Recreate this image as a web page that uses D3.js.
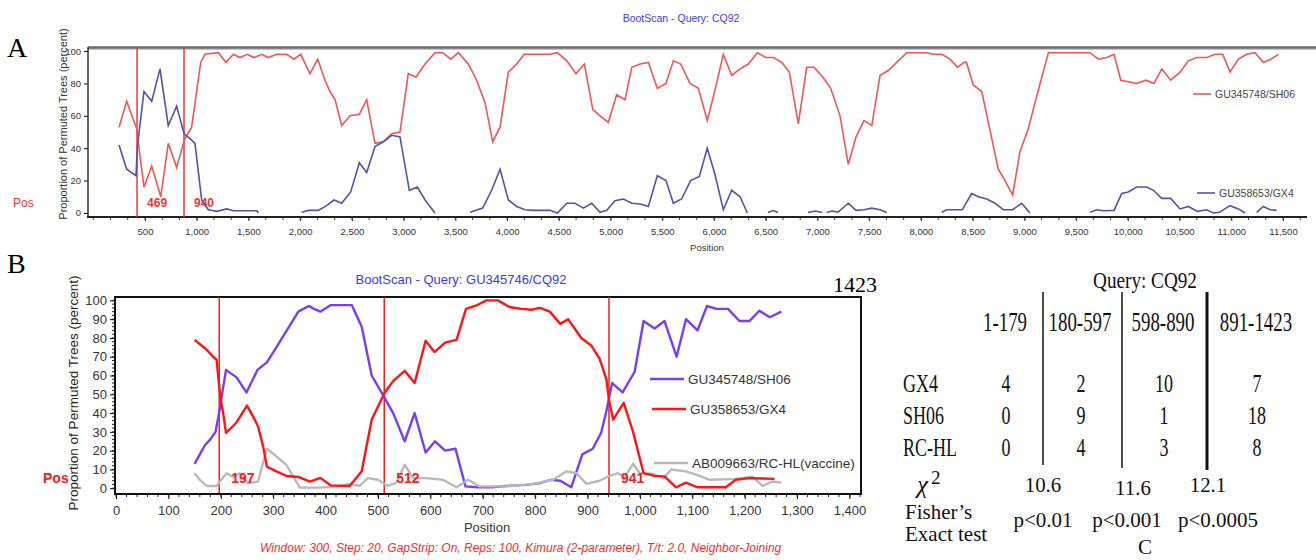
<!DOCTYPE html>
<html>
<head>
<meta charset="utf-8">
<script src="https://cdn.jsdelivr.net/npm/d3@7"></script>
<style>
    body { margin: 0; background: #fff; }
    svg { display: block; }
    .sans { font-family: "Liberation Sans", Arial, sans-serif; }
    .serif { font-family: "Liberation Serif", "Times New Roman", serif; }
</style>
</head>
<body>
<svg id="chart" width="1316" height="560"></svg>
<script>
/***** Données *****/

// Panneau A : [position, % arbres permutés], null = trou dans la courbe
const sh06A = [[249,53],[323,69],[420,52],[430,46],[490,16],[565,29],[652,10],[725,43],[806,28],[880,45],
    [951,53],[1038,93],[1080,98],[1209,99],[1283,93],[1354,98],[1418,96],[1489,98],[1554,96],[1628,98],
    [1692,96],[1773,98],[1870,98],[1940,95],[2005,98],[2095,86],[2169,95],[2240,82],[2288,75],[2337,70],
    [2401,54],[2482,60],[2572,61],[2643,70],[2723,43],[2804,44],[2885,49],[2965,50],[3045,86],[3120,84],
    [3207,92],[3303,99],[3378,99],[3455,95],[3529,99],[3625,92],[3706,82],[3787,68],[3861,44],[3932,53],
    [4012,87],[4093,92],[4164,98],[4415,98],[4486,99],[4577,94],[4666,86],[4747,92],[4828,64],[4898,60],
    [4979,56],[5059,73],[5140,70],[5205,90],[5285,92],[5366,93],[5452,77],[5536,80],[5607,94],[5678,92],
    [5768,80],[5849,77],[5935,57],[6010,76],[6090,98],[6171,85],[6252,89],[6332,92],[6419,99],[6503,96],
    [6574,96],[6655,93],[6728,87],[6815,55],[6896,90],[6967,90],[7051,84],[7128,77],[7218,60],[7298,30],
    [7373,47],[7450,57],[7525,54],[7605,85],[7685,88],[7766,93],[7863,99],[8056,99],[8121,98],[8202,98],
    [8282,95],[8353,90],[8418,93],[8440,93],[8506,79],[8588,75],[8668,51],[8748,27],[8813,20],[8887,11],
    [8958,38],[9038,52],[9119,72],[9232,99],[9635,99],[9715,95],[9796,96],[9867,98],[9932,82],[10005,81],
    [10086,80],[10176,82],[10253,80],[10328,89],[10415,82],[10505,87],[10585,94],[10666,96],[10763,96],
    [10843,98],[10917,98],[10988,87],[11068,95],[11149,98],[11230,99],[11310,93],[11381,95],[11455,98]];

const gx4A = [[249,42],[323,27],[413,23],[426,41],[490,75],[565,69],[645,89],[725,54],[806,66],[877,49],
    [951,45],[983,43],[1048,8],[1112,2],[1193,1],[1290,2.5],[1354,1.4],[1580,1.4],[1596,0],null,
    [2014,0.4],[2079,1.6],[2175,1.6],[2256,4.5],[2327,8],[2401,6],[2488,13],[2572,31],[2643,25],[2723,41],
    [2804,44],[2885,48],[2965,47],[3055,14],[3132,16],[3207,8],[3303,0],null,
    [3642,0.4],[3764,3],[3851,14],[3932,27],[4012,8],[4093,4],[4173,2],[4254,1.6],[4415,1.6],[4486,0],
    [4577,6],[4657,6],[4738,3],[4818,6],[4898,0.4],[4963,1.6],[5043,7.6],[5124,8.6],[5205,6],[5285,5.5],
    [5366,4],[5452,23],[5536,20],[5607,6],[5687,8.6],[5774,20],[5858,22.5],[5935,40],[6010,23.6],[6090,2],
    [6171,14],[6252,10],[6322,0],null,
    [6522,0.3],[6574,1.5],[6619,0.3],null,
    [6909,0.3],[6980,1.2],[7045,0.3],null,
    [7089,0.3],[7140,1.2],[7200,0.5],[7298,6],[7373,1.6],[7450,2],[7525,3],[7605,2],[7670,0.3],null,
    [8202,0.4],[8250,2],[8400,2],[8490,12],[8555,10],[8636,8.6],[8716,6],[8797,2],[8887,2],[8974,6],[9054,0],null,
    [9635,0.4],[9700,2],[9764,1.4],[9867,1.6],[9941,12],[10005,13],[10086,16],[10183,16],[10247,14],[10328,9],
    [10415,9],[10505,2.5],[10585,4],[10673,1],[10763,2],[10827,0],[10885,0.4],[10988,4.5],[11068,2.5],[11133,0],null,
    [11246,0.4],[11310,4],[11375,2],[11439,1.6]];

const breakA = [{ pos: 423, label: "469" }, { pos: 877, label: "940" }];
const legendA = ["GU345748/SH06", "GU358653/GX4"];

// Panneau B
const sh06B = [[150,13],[160,18],[170,23],[180,26],[190,30],[198,42],[203,51],[210,63],[230,59],[249,51],
    [270,63],[288,67],[306,75],[326,84],[348,94],[368,97],[378,95.5],[390,94],[410,97.5],[450,97.5],
    [469,86],[488,60],[513,48],[529,40],[551,25],[570,40],[591,19],[609,25],[628,20],[648,21],
    [667,1],[690,0.5],[715,0.5],[745,1.2],[783,1.8],[809,2.7],[830,4.5],[848,4],[869,0.5],[890,18],
    [910,21],[926,29.5],[936,41],[947,56],[967,51],[990,62],[1007,89],[1028,85],[1047,89],[1070,70],
    [1088,90],[1110,84],[1128,97],[1146,95.5],[1168,95.5],[1190,89],[1209,89],[1228,94.5],[1248,91],[1270,94]];

const gx4B = [[150,79],[170,74.5],[189,69],[192,68.5],[196,57],[200,47],[204,41],[210,29.5],[230,35],[250,44],
    [262,38],[271,33],[281,22],[288,11.5],[306,9],[326,6.5],[348,6],[370,3.5],[390,5.5],[410,1.5],
    [446,1.2],[469,9],[488,36.5],[513,51],[529,57],[551,62.5],[570,56],[591,78.5],[608,72.5],[628,77.5],
    [650,79],[668,95.5],[688,97.3],[707,100],[729,100],[751,96.5],[774,95.5],[793,95],[809,96],[828,94],
    [848,87.5],[863,90],[888,80],[907,76],[923,69],[936,58],[941,47],[949,36.5],[969,45.5],[987,30],
    [1007,8],[1028,6.6],[1047,6.3],[1069,0.5],[1088,3],[1110,0.5],[1164,0.5],[1183,4.5],[1209,5.4],[1257,5]];

const rchlB = [[150,8],[160,4.5],[173,1.2],[192,1.2],[198,3.5],[211,8],[224,6],[236,8],[252,2.7],[271,3.5],
    [288,21],[306,17],[325,12.5],[351,0.3],[389,0.3],[427,1],[446,2.3],[465,1.2],[481,5.4],[500,4.5],
    [519,1.2],[535,3],[551,12.5],[567,5.4],[593,5.4],[624,4.5],[650,0.5],[672,4.5],[694,1],[745,1],
    [796,2.3],[834,4.5],[860,9],[879,8],[898,2.3],[923,4],[942,6.6],[958,8],[971,6.2],[987,13],
    [1000,8],[1025,7.7],[1045,5.4],[1060,10],[1088,9],[1110,7],[1133,4.5],[1183,5],[1215,6.2],[1234,1.2],
    [1253,3.6],[1270,3]];

const breakB = [197, 512, 941];
const legendB = ["GU345748/SH06", "GU358653/GX4", "AB009663/RC-HL(vaccine)"];

// Tableau C
const tableColumns = ["1-179", "180-597", "598-890", "891-1423"];
const tableRows = ["GX4", "SH06", "RC-HL"];
const countsGX4 = [4, 2, 10, 7];
const countsSH06 = [0, 9, 1, 18];
const countsRCHL = [0, 4, 3, 8];
const chi2Values = ["10.6", "11.6", "12.1"];
const fisherValues = ["p<0.01", "p<0.001", "p<0.0005"];

(function (d3) {
    "use strict";

    const svg = d3.select("#chart");
    const RED_A = "#f05656", BLUE_A = "#5252a8";
    const PURPLE_B = "#7a3cf5", RED_B = "#ff1414", GRAY_B = "#b9b9b9";

    /***** Panneau A *****/
    const xA = d3.scaleLinear().domain([-51, 11732]).range([88, 1307]);
    const yA = d3.scaleLinear().domain([-2.5, 101.9]).range([217, 48]);

    const gA = svg.append("g").attr("class", "sans");

    svg.append("text").attr("class", "serif").attr("x", 7).attr("y", 57)
        .style("font-size", "28px").text("A");

    gA.append("text").attr("x", 681).attr("y", 22).attr("text-anchor", "middle")
        .style("font-size", "10.5px").style("fill", "#3b3bdc").text("BootScan - Query: CQ92");

    // axes
    const axisA = gA.append("g").attr("transform", "translate(0,217)")
        .call(d3.axisBottom(xA).tickValues(d3.range(500, 11501, 500))
            .tickFormat(d3.format(",")).tickSize(4).tickSizeOuter(0));
    axisA.select(".domain").remove();
    axisA.selectAll("text").attr("y", 11).style("font-size", "9.5px").style("fill", "#333");
    axisA.selectAll("line").attr("stroke", "#333");

    gA.append("g").selectAll("line")
        .data(d3.range(0, 11700, 500 / 3))
        .join("line")
        .attr("x1", d => xA(d)).attr("x2", d => xA(d))
        .attr("y1", 217).attr("y2", 220).attr("stroke", "#444");

    const yAxisA = gA.append("g").attr("transform", "translate(88,0)")
        .call(d3.axisLeft(yA).tickValues([0, 20, 40, 60, 80, 100]).tickSize(4).tickPadding(3));
    yAxisA.select(".domain").remove();
    yAxisA.selectAll("text").style("font-size", "9.5px").style("fill", "#333");

    gA.append("line").attr("x1", 88).attr("x2", 1316).attr("y1", 48).attr("y2", 48)
        .attr("stroke", "#888").attr("stroke-width", 3);
    gA.append("line").attr("x1", 88).attr("x2", 1316).attr("y1", 47).attr("y2", 47)
        .attr("stroke", "#555").attr("stroke-width", 1);
    gA.append("line").attr("x1", 88).attr("x2", 88).attr("y1", 47).attr("y2", 218)
        .attr("stroke", "#333").attr("stroke-width", 1.5);
    gA.append("line").attr("x1", 87).attr("x2", 1307).attr("y1", 217).attr("y2", 217)
        .attr("stroke", "#222").attr("stroke-width", 2);

    gA.append("text").attr("transform", "translate(67,124) rotate(-90)")
        .attr("text-anchor", "middle").style("font-size", "11px").style("fill", "#333")
        .text("Proportion of Permuted Trees (percent)");
    gA.append("text").attr("x", 707).attr("y", 251).attr("text-anchor", "middle")
        .style("font-size", "9.5px").style("fill", "#333").text("Position");

    // lignes de recombinaison
    gA.selectAll(".breakA").data(breakA).join("line")
        .attr("x1", d => xA(d.pos)).attr("x2", d => xA(d.pos))
        .attr("y1", 48).attr("y2", 217)
        .attr("stroke", "#e83a3a").attr("stroke-width", 1.5);
    gA.selectAll(".breakLabelA").data(breakA).join("text")
        .attr("x", d => xA(d.pos) + 10).attr("y", 207)
        .style("font-size", "12px").style("font-weight", "bold").style("fill", "#f03434")
        .text(d => d.label);
    gA.append("text").attr("x", 13).attr("y", 207)
        .style("font-size", "12px").style("fill", "#f03434").text("Pos");

    const lineA = d3.line().defined(d => d !== null)
        .x(d => xA(d[0])).y(d => yA(d[1]));
    gA.append("path").datum(sh06A).attr("d", lineA)
        .attr("fill", "none").attr("stroke", RED_A).attr("stroke-width", 1.6);
    gA.append("path").datum(gx4A).attr("d", lineA)
        .attr("fill", "none").attr("stroke", BLUE_A).attr("stroke-width", 1.6);

    // légende
    const legA = [{ name: legendA[0], color: RED_A, x: 1193, y: 94 },
                  { name: legendA[1], color: BLUE_A, x: 1197, y: 193 }];
    legA.forEach(function (l) {
        gA.append("line").attr("x1", l.x).attr("x2", l.x + 18).attr("y1", l.y).attr("y2", l.y)
            .attr("stroke", l.color).attr("stroke-width", 1.6);
        gA.append("text").attr("x", l.x + 22).attr("y", l.y + 4)
            .style("font-size", "10.5px").style("fill", "#444").text(l.name);
    });

    /***** Panneau B *****/
    const xB = d3.scaleLinear().domain([0, 1422]).range([116, 861]);
    const yB = d3.scaleLinear().domain([-2.7, 101.8]).range([493.3, 297]);

    const gB = svg.append("g").attr("class", "sans");

    svg.append("text").attr("class", "serif").attr("x", 7).attr("y", 273)
        .style("font-size", "28px").text("B");

    gB.append("text").attr("x", 461).attr("y", 284).attr("text-anchor", "middle")
        .style("font-size", "13px").style("fill", "#3c3cd8")
        .text("BootScan - Query: GU345746/CQ92");

    const xAxisB = gB.append("g").attr("transform", "translate(0,494)")
        .call(d3.axisBottom(xB).tickValues(d3.range(0, 1401, 100))
            .tickFormat(d3.format(",")).tickSize(5).tickSizeOuter(0));
    xAxisB.select(".domain").remove();
    xAxisB.selectAll("text").attr("y", 12).style("font-size", "13px").style("fill", "#333");

    gB.append("g").selectAll("line")
        .data(d3.range(0, 1421, 20))
        .join("line")
        .attr("x1", d => xB(d)).attr("x2", d => xB(d))
        .attr("y1", 494).attr("y2", 497).attr("stroke", "#222");

    const yAxisB = gB.append("g").attr("transform", "translate(115,0)")
        .call(d3.axisLeft(yB).tickValues(d3.range(0, 101, 10)).tickSize(5).tickPadding(3));
    yAxisB.select(".domain").remove();
    yAxisB.selectAll("text").style("font-size", "13px").style("fill", "#333");

    gB.append("g").selectAll("line")
        .data(d3.range(0, 101, 2))
        .join("line")
        .attr("x1", 112).attr("x2", 115)
        .attr("y1", d => yB(d)).attr("y2", d => yB(d)).attr("stroke", "#222");

    gB.append("rect").attr("x", 115).attr("y", 297).attr("width", 746).attr("height", 197)
        .attr("fill", "none").attr("stroke", "#111").attr("stroke-width", 2);

    gB.append("text").attr("transform", "translate(78,393) rotate(-90)")
        .attr("text-anchor", "middle").style("font-size", "13.5px").style("fill", "#222")
        .text("Proportion of Permuted Trees (percent)");
    gB.append("text").attr("x", 487).attr("y", 532).attr("text-anchor", "middle")
        .style("font-size", "13px").style("fill", "#333").text("Position");

    gB.append("text").attr("x", 260).attr("y", 552)
        .style("font-size", "12px").style("font-style", "italic").style("fill", "#f03030")
        .text("Window: 300, Step: 20, GapStrip: On, Reps: 100, Kimura (2-parameter), T/t: 2.0, Neighbor-Joining");

    gB.append("text").attr("class", "serif").attr("x", 855).attr("y", 292)
        .attr("text-anchor", "middle").style("font-size", "22px").text("1423");

    gB.selectAll(".breakB").data(breakB).join("line")
        .attr("x1", d => xB(d)).attr("x2", d => xB(d))
        .attr("y1", 297).attr("y2", 493)
        .attr("stroke", "#e82020").attr("stroke-width", 1.5);

    const lineB = d3.line().x(d => xB(d[0])).y(d => yB(d[1]));
    [[sh06B, PURPLE_B], [rchlB, GRAY_B], [gx4B, RED_B]].forEach(function (s) {
        gB.append("path").datum(s[0]).attr("d", lineB)
            .attr("fill", "none").attr("stroke", s[1]).attr("stroke-width", 2.4)
            .attr("stroke-linejoin", "round");
    });

    gB.selectAll(".breakLabelB").data(breakB).join("text")
        .attr("x", d => xB(d) + 12).attr("y", 483)
        .style("font-size", "14px").style("font-weight", "bold").style("fill", "#f02020")
        .text(d => d);
    gB.append("text").attr("x", 43).attr("y", 483)
        .style("font-size", "14px").style("font-weight", "bold").style("fill", "#f02020").text("Pos");

    const legB = [{ name: legendB[0], color: PURPLE_B, x: 650, y: 379 },
                  { name: legendB[1], color: RED_B, x: 652, y: 409 },
                  { name: legendB[2], color: GRAY_B, x: 654, y: 463 }];
    legB.forEach(function (l) {
        gB.append("line").attr("x1", l.x).attr("x2", l.x + 34).attr("y1", l.y).attr("y2", l.y)
            .attr("stroke", l.color).attr("stroke-width", 2.4);
        gB.append("text").attr("x", l.x + 38).attr("y", l.y + 5)
            .style("font-size", "13.5px").style("fill", "#333").text(l.name);
    });

    /***** Tableau C *****/
    const gC = svg.append("g").attr("class", "serif").style("fill", "#111");

    function condensed(str, x, y, size, sx, anchor) {
        gC.append("text")
            .attr("transform", "translate(" + x + "," + y + ") scale(" + sx + ",1)")
            .attr("text-anchor", anchor)
            .style("font-size", size + "px")
            .text(str);
    }

    const colX = [1005, 1080, 1163, 1256];
    const rowY = [392, 424, 456];
    const rowCounts = [countsGX4, countsSH06, countsRCHL];

    condensed("Query: CQ92", 1145, 288, 24, 0.8, "middle");
    tableColumns.forEach((c, i) => condensed(c, colX[i], 331, 27, 0.7, "middle"));
    tableRows.forEach(function (r, j) {
        condensed(r, 903, rowY[j], 25, 0.72, "start");
        rowCounts[j].forEach((v, i) => condensed(String(v), colX[i] + 1, rowY[j], 25, 0.72, "middle"));
    });

    const sepX = [1043, 1122, 1207];
    const sepBottom = [465, 468, 470];
    const sepWidth = [1.5, 1.5, 3];
    sepX.forEach(function (x, i) {
        gC.append("line").attr("x1", x).attr("x2", x).attr("y1", 292).attr("y2", sepBottom[i])
            .attr("stroke", "#111").attr("stroke-width", sepWidth[i]);
    });

    gC.append("text").attr("x", 917).attr("y", 493)
        .style("font-size", "25px").style("font-style", "italic").text("χ");
    gC.append("text").attr("x", 931).attr("y", 484).style("font-size", "19px").text("2");

    const chiX = [1043, 1133, 1208], chiY = [492, 495, 492];
    chi2Values.forEach((c, i) => condensed(c, chiX[i], chiY[i], 22, 0.95, "middle"));

    condensed("Fisher’s", 905, 519, 20, 1.05, "start");
    condensed("Exact test", 905, 541, 20, 1.05, "start");
    const pX = [1043, 1127, 1218];
    fisherValues.forEach((p, i) => condensed(p, pX[i], 527, 21, 1, "middle"));

    condensed("C", 1145, 554, 21, 1, "middle");

})(d3);
</script>
</body>
</html>
